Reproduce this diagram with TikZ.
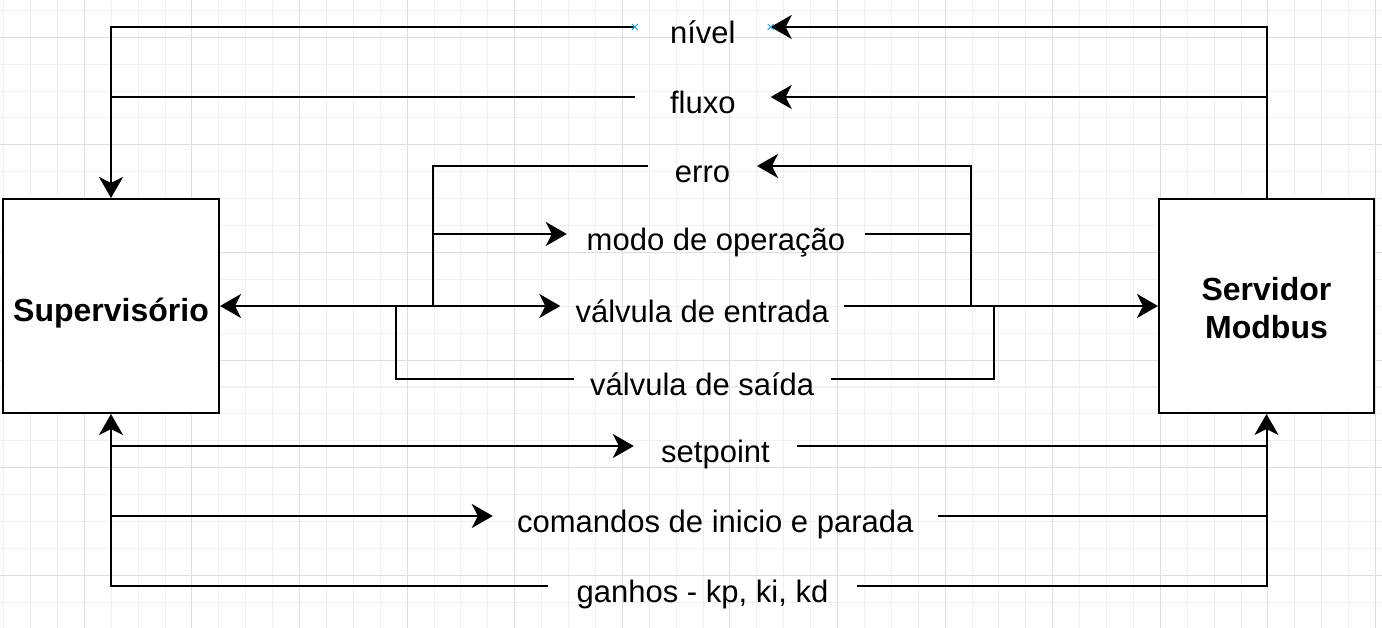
\documentclass[tikz,border=0pt]{standalone}
\usepackage{fontspec}
\setmainfont{Liberation Sans}
\usetikzlibrary{arrows.meta}
\begin{document}
\begin{tikzpicture}[x=1pt,y=-1pt,
  conn/.style={line width=2pt,draw=black},
  arr/.style={conn,-{Stealth[length=21pt,width=24pt,inset=6pt]}},
  arrboth/.style={conn,{Stealth[length=21pt,width=24pt,inset=6pt]}-{Stealth[length=21pt,width=24pt,inset=6pt]}},
  boxnode/.style={draw=black,line width=2pt,fill=white,inner sep=0pt,font=\fontsize{32}{38}\selectfont\bfseries,align=center},
  lbl/.style={inner sep=0pt,font=\fontsize{31}{38}\selectfont,text height=33.5pt,text depth=0pt},
  selmark/.style={draw={rgb,255:red,41;green,170;blue,225},line width=1pt}
]
\useasboundingbox (0,0) rectangle (1382,628);
\fill[white] (0,0) rectangle (1382,628);
% grid
\begin{scope}
\clip (0,0) rectangle (1382,628);
\foreach \i in {0,...,51} \draw[black!6,line width=1pt] ({3.6+26.9*\i},0) -- ({3.6+26.9*\i},628);
\foreach \j in {0,...,23} \draw[black!6,line width=1pt] (0,{10.4+26.9*\j}) -- (1382,{10.4+26.9*\j});
\foreach \i in {0,...,12} \draw[black!13,line width=1pt] ({84.3+107.6*\i},0) -- ({84.3+107.6*\i},628);
\foreach \j in {0,...,5} \draw[black!13,line width=1pt] (0,{37.3+107.6*\j}) -- (1382,{37.3+107.6*\j});
\end{scope}

% boxes
\node[boxnode,minimum width=216pt,minimum height=214pt,text height=31pt,text depth=0pt] (sup) at (111,306) {Supervisório};
\node[boxnode,minimum width=215pt,minimum height=214pt] (srv) at (1266.5,306) {\rule{0pt}{27.5pt}Servidor\\Modbus};

% labels
\node[lbl,minimum width=135.5pt] (nivel) at (702.75,27) {nível};
\node[lbl,minimum width=135.5pt] (fluxo) at (702.75,97) {fluxo};
\node[lbl,minimum width=108.5pt] (erro) at (702.5,166) {erro};
\node[lbl,minimum width=298pt] (modo) at (716,234) {modo de operação};
\node[lbl,minimum width=283.5pt] (ventr) at (702.25,306) {válvula de entrada};
\node[lbl,minimum width=256.5pt] (vsai) at (702.25,379) {válvula de saída};
\node[lbl,minimum width=163pt] (setp) at (715.5,446) {setpoint};
\node[lbl,minimum width=444.5pt] (coms) at (715.25,516) {comandos de inicio e parada};
\node[lbl,minimum width=309pt] (ganh) at (702.5,586) {ganhos - kp, ki, kd};

\coordinate (iL) at (433,306);
\coordinate (iR) at (971,306);
\coordinate (oL) at (396,306);
\coordinate (oR) at (994,306);

% top connectors
\draw[arr] (srv.north) -- (srv.north |- nivel) -- (nivel.east);
\draw[arr] (nivel.west) -- (sup.north |- nivel) -- (sup.north);
\draw[arr] (srv.north |- fluxo) -- (fluxo.east);
\draw[conn] (fluxo.west) -- (sup.north |- fluxo);

% main line
\draw[arrboth] (sup.east) -- (ventr.west);
\draw[arr] (ventr.east) -- (srv.west);

% inner loop
\draw[arr] (iR) -- (iR |- erro) -- (erro.east);
\draw[conn] (erro.west) -- (iL |- erro) -- (iL);
\draw[arr] (iL |- modo) -- (modo.west);
\draw[conn] (modo.east) -- (iR |- modo);

% valvula de saida loop
\draw[conn] (oL) -- (oL |- vsai) -- (vsai.west);
\draw[conn] (vsai.east) -- (oR |- vsai) -- (oR);

% bottom connectors
\draw[arr] (ganh.west) -- (sup.south |- ganh) -- (sup.south);
\draw[arr] (ganh.east) -- (srv.south |- ganh) -- (srv.south);
\draw[arr] (sup.south |- setp) -- (setp.west);
\draw[conn] (setp.east) -- (srv.south |- setp);
\draw[arr] (sup.south |- coms) -- (coms.west);
\draw[conn] (coms.east) -- (srv.south |- coms);

% selection marks
\draw[selmark] ([shift={(-3,-3)}]nivel.west) -- ([shift={(3,3)}]nivel.west);
\draw[selmark] ([shift={(-3,3)}]nivel.west) -- ([shift={(3,-3)}]nivel.west);
\draw[selmark] ([shift={(-3,-3)}]nivel.east) -- ([shift={(3,3)}]nivel.east);
\draw[selmark] ([shift={(-3,3)}]nivel.east) -- ([shift={(3,-3)}]nivel.east);
\end{tikzpicture}
\end{document}
